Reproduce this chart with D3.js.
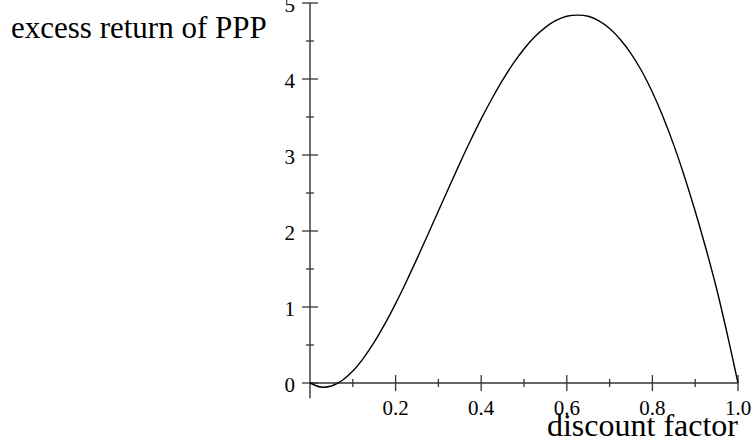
<!DOCTYPE html>
<html>
<head>
<meta charset="utf-8">
<script src="https://cdn.jsdelivr.net/npm/d3@7"></script>
<style>
  body { margin: 0; background: #fff; }
  svg text { font-family: "Liberation Serif", "Times New Roman", serif; fill: #000; }
</style>
</head>
<body>
<svg id="chart" width="754" height="446"></svg>
<script>
// discount factor (x) vs excess return of PPP (y)
var discount = [0, 0.025, 0.05, 0.075, 0.1, 0.125, 0.15, 0.175, 0.2, 0.225, 0.25, 0.275, 0.3, 0.325, 0.35, 0.375, 0.4,
  0.425, 0.45, 0.475, 0.5, 0.525, 0.55, 0.575, 0.6, 0.625, 0.65, 0.675, 0.7, 0.725, 0.75, 0.775, 0.8, 0.825,
  0.85, 0.875, 0.9, 0.925, 0.95, 0.975, 1.0];
var excess = [0, -0.053, -0.04, 0.033, 0.157, 0.328, 0.537, 0.778, 1.045, 1.333, 1.636, 1.948, 2.264, 2.579, 2.89,
  3.19, 3.475, 3.74, 3.985, 4.205, 4.395, 4.555, 4.68, 4.77, 4.825, 4.84, 4.825, 4.765, 4.665, 4.52, 4.335,
  4.105, 3.825, 3.5, 3.13, 2.715, 2.26, 1.77, 1.24, 0.64, 0];

var xMajor = [0.2, 0.4, 0.6, 0.8, 1.0];
var xMinor = [0.1, 0.3, 0.5, 0.7, 0.9];
var yMajor = [0, 1, 2, 3, 4, 5];
var yMinor = [0.5, 1.5, 2.5, 3.5, 4.5];

var svg = d3.select("#chart");

var x = d3.scaleLinear().domain([0, 1]).range([310, 738]);
var y = d3.scaleLinear().domain([0, 5]).range([383, 3]);

var axisColor = "#333";

// axis lines (y axis runs a bit below zero, like the original)
svg.append("line")
  .attr("x1", x(0)).attr("x2", x(1))
  .attr("y1", y(0)).attr("y2", y(0))
  .attr("stroke", axisColor).attr("stroke-width", 1.4);
svg.append("line")
  .attr("x1", x(0)).attr("x2", x(0))
  .attr("y1", y(5)).attr("y2", y(-0.2))
  .attr("stroke", axisColor).attr("stroke-width", 1.4);

// x ticks
svg.selectAll(".xmaj").data(xMajor).enter().append("line")
  .attr("x1", d => x(d)).attr("x2", d => x(d))
  .attr("y1", y(0) - 8).attr("y2", y(0) + 8)
  .attr("stroke", axisColor).attr("stroke-width", 1.3);
svg.selectAll(".xmin").data(xMinor).enter().append("line")
  .attr("x1", d => x(d)).attr("x2", d => x(d))
  .attr("y1", y(0) - 4).attr("y2", y(0) + 4)
  .attr("stroke", axisColor).attr("stroke-width", 1.3);
svg.selectAll(".xlab").data(xMajor).enter().append("text")
  .attr("x", d => x(d)).attr("y", 415)
  .attr("text-anchor", "middle")
  .style("font-size", "21px")
  .text(d => d.toFixed(1));

// y ticks
svg.selectAll(".ymaj").data(yMajor).enter().append("line")
  .attr("x1", x(0) - 8).attr("x2", x(0) + 8)
  .attr("y1", d => y(d)).attr("y2", d => y(d))
  .attr("stroke", axisColor).attr("stroke-width", 1.3);
svg.selectAll(".ymin").data(yMinor).enter().append("line")
  .attr("x1", x(0) - 4).attr("x2", x(0) + 4)
  .attr("y1", d => y(d)).attr("y2", d => y(d))
  .attr("stroke", axisColor).attr("stroke-width", 1.3);
svg.selectAll(".ylab").data(yMajor).enter().append("text")
  .attr("x", 295).attr("y", d => y(d) + 9)
  .attr("text-anchor", "end")
  .style("font-size", "21px")
  .text(d => d);

// curve
var line = d3.line()
  .x((d, i) => x(discount[i]))
  .y(d => y(d))
  .curve(d3.curveCatmullRom);

svg.append("path")
  .datum(excess)
  .attr("d", line)
  .attr("fill", "none")
  .attr("stroke", "#000")
  .attr("stroke-width", 1.4);

// axis titles
svg.append("text")
  .attr("x", 11).attr("y", 38)
  .style("font-size", "31px")
  .text("excess return of PPP");
svg.append("text")
  .attr("x", 738).attr("y", 436)
  .attr("text-anchor", "end")
  .style("font-size", "32px")
  .text("discount factor");
</script>
</body>
</html>
